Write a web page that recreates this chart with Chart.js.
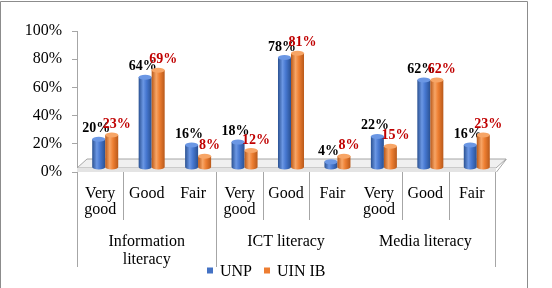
<!DOCTYPE html>
<html>
<head>
<meta charset="utf-8">
<script src="https://cdn.jsdelivr.net/npm/chart.js@4"></script>
<style>
  body { margin: 0; background: #fff; }
  #wrap { width: 552px; height: 288px; }
</style>
</head>
<body>
<div id="wrap"><canvas id="myChart" width="552" height="288"></canvas></div>
<script>
var categories = [['Very', 'good'], 'Good', 'Fair', ['Very', 'good'], 'Good', 'Fair', ['Very', 'good'], 'Good', 'Fair'];
var groups = [['Information', 'literacy'], 'ICT literacy', 'Media literacy'];
var groupSize = [3, 3, 3];
var unp = [20, 64, 16, 18, 78, 4, 22, 62, 16];
var uinib = [23, 69, 8, 12, 81, 8, 15, 62, 23];
var yTicks = [0, 20, 40, 60, 80, 100];

var serif = '"Liberation Serif", "Times New Roman", serif';
var depthX = 5, depthY = 4.5;   // half depth of the 3d floor

function cylinder(c, x, top, base, w, cols) {
    var l = x - w / 2, r = x + w / 2, ry = 2.5;
    var g = c.createLinearGradient(l, 0, r, 0);
    g.addColorStop(0, cols[2]);
    g.addColorStop(0.35, cols[1]);
    g.addColorStop(0.6, cols[0]);
    g.addColorStop(1, cols[2]);
    c.fillStyle = g;
    c.beginPath();
    c.moveTo(l, top);
    c.lineTo(l, base);
    c.ellipse(x, base, w / 2, ry, 0, Math.PI, 0, true);
    c.lineTo(r, top);
    c.closePath();
    c.fill();
    c.fillStyle = cols[1];
    c.beginPath();
    c.ellipse(x, top, w / 2, ry, 0, 0, Math.PI * 2);
    c.fill();
}

var drawExtras = {
    id: 'drawExtras',
    beforeDatasetsDraw: function (chart) {
        var c = chart.ctx, a = chart.chartArea;
        c.save();
        // outer frame
        c.strokeStyle = '#8c8c8c';
        c.lineWidth = 1;
        c.beginPath();
        c.moveTo(0.5, 288);
        c.lineTo(0.5, 1.5);
        c.lineTo(527.5, 1.5);
        c.lineTo(527.5, 288);
        c.stroke();
        // floor
        var fy = a.bottom - 4;
        c.fillStyle = '#f0f0f0';
        c.strokeStyle = '#a6a6a6';
        c.beginPath();
        c.moveTo(a.left, fy);
        c.lineTo(a.left + 2 * depthX, fy - 2 * depthY);
        c.lineTo(a.right + 2 * depthX + 1, fy - 2 * depthY);
        c.lineTo(a.right + 1, fy);
        c.closePath();
        c.fill();
        c.stroke();
        c.fillStyle = '#e4e4e4';
        c.fillRect(a.left, fy, a.right + 1 - a.left, 4);
        c.beginPath();
        c.moveTo(a.right + 1.5, a.bottom);
        c.lineTo(a.right + 2 * depthX + 1.5, fy - 2 * depthY);
        c.stroke();
        c.restore();
    },
    afterDatasetsDraw: function (chart) {
        var c = chart.ctx, a = chart.chartArea;
        var x = chart.scales.x;
        var palettes = [['#4677d0', '#6b97e4', '#2a5192'], ['#ee7f32', '#f7a566', '#b9591a']];
        var labelCol = ['#000000', '#c00000'];
        var shift = [-2.5, 5];
        c.save();
        chart.data.datasets.forEach(function (ds, di) {
            chart.getDatasetMeta(di).data.forEach(function (bar, i) {
                var bx = bar.x + depthX, top = bar.y - depthY, base = bar.base - depthY;
                cylinder(c, bx, top, base, bar.width, palettes[di]);
                c.font = 'bold 14px ' + serif;
                c.fillStyle = labelCol[di];
                c.textAlign = 'center';
                c.textBaseline = 'alphabetic';
                c.fillText(ds.data[i] + '%', bx + shift[di], top - 7);
            });
        });

        // category axis, two levels
        var n = categories.length;
        var step = (x.getPixelForValue(1) - x.getPixelForValue(0));
        var edge = function (k) { return x.getPixelForValue(0) - step / 2 + k * step; };
        var skip = [2, 6];
        var row1 = a.bottom + 48, row2 = a.bottom + 95;
        c.strokeStyle = '#a6a6a6';
        c.lineWidth = 1;
        var gEnds = [0], acc = 0;
        groupSize.forEach(function (s) { acc += s; gEnds.push(acc); });
        for (var k = 0; k <= n; k++) {
            if (skip.indexOf(k) >= 0) continue;
            var px = Math.round(edge(k)) + 0.5;
            var long = (gEnds.indexOf(k) >= 0 && k !== 6);
            c.beginPath();
            c.moveTo(px, a.bottom);
            c.lineTo(px, long ? row2 : row1);
            c.stroke();
        }
        c.fillStyle = '#000';
        c.font = '16px ' + serif;
        c.textAlign = 'center';
        c.textBaseline = 'middle';
        categories.forEach(function (lab, i) {
            var lines = Array.isArray(lab) ? lab : [lab];
            lines.forEach(function (t, j) {
                c.fillText(t, x.getPixelForValue(i), a.bottom + 22 + j * 16);
            });
        });
        groups.forEach(function (lab, g) {
            var cx = (edge(gEnds[g]) + edge(gEnds[g + 1])) / 2;
            var lines = Array.isArray(lab) ? lab : [lab];
            lines.forEach(function (t, j) {
                c.fillText(t, cx, a.bottom + 70 + j * 18);
            });
        });

        // legend
        var ly = 270.5;
        var items = chart.data.datasets;
        var lx = 207;
        items.forEach(function (ds, di) {
            c.fillStyle = ds.legendColor;
            c.fillRect(lx, ly - 3, 6, 6);
            c.fillStyle = '#000';
            c.textAlign = 'left';
            c.fillText(ds.label, lx + 13, ly + 1);
            lx += 13 + c.measureText(ds.label).width + 12;
        });
        c.restore();
    }
};

var ctx = document.getElementById('myChart').getContext('2d');
var myChart = new Chart(ctx, {
    type: 'bar',
    data: {
        labels: categories,
        datasets: [{
            label: 'UNP',
            data: unp,
            legendColor: '#4472c4',
            backgroundColor: 'rgba(0,0,0,0)'
        }, {
            label: 'UIN IB',
            data: uinib,
            legendColor: '#ed7d31',
            backgroundColor: 'rgba(0,0,0,0)'
        }]
    },
    options: {
        responsive: false,
        animation: false,
        categoryPercentage: 0.56,
        barPercentage: 1,
        layout: { padding: { top: 31, right: 57, bottom: 116, left: 0 } },
        plugins: { legend: { display: false }, tooltip: { enabled: false } },
        scales: {
            x: { display: false },
            y: {
                min: 0,
                max: 100,
                afterFit: function (s) { s.width = 77; },
                afterBuildTicks: function (s) { s.ticks = yTicks.map(function (v) { return { value: v }; }); },
                ticks: {
                    padding: 10,
                    color: '#000',
                    font: { family: serif, size: 16 },
                    callback: function (v) { return v + '%'; }
                },
                grid: { drawOnChartArea: false, drawTicks: true, tickLength: 5, color: '#a6a6a6' },
                border: { color: '#a6a6a6' }
            }
        }
    },
    plugins: [drawExtras]
});
</script>
</body>
</html>
